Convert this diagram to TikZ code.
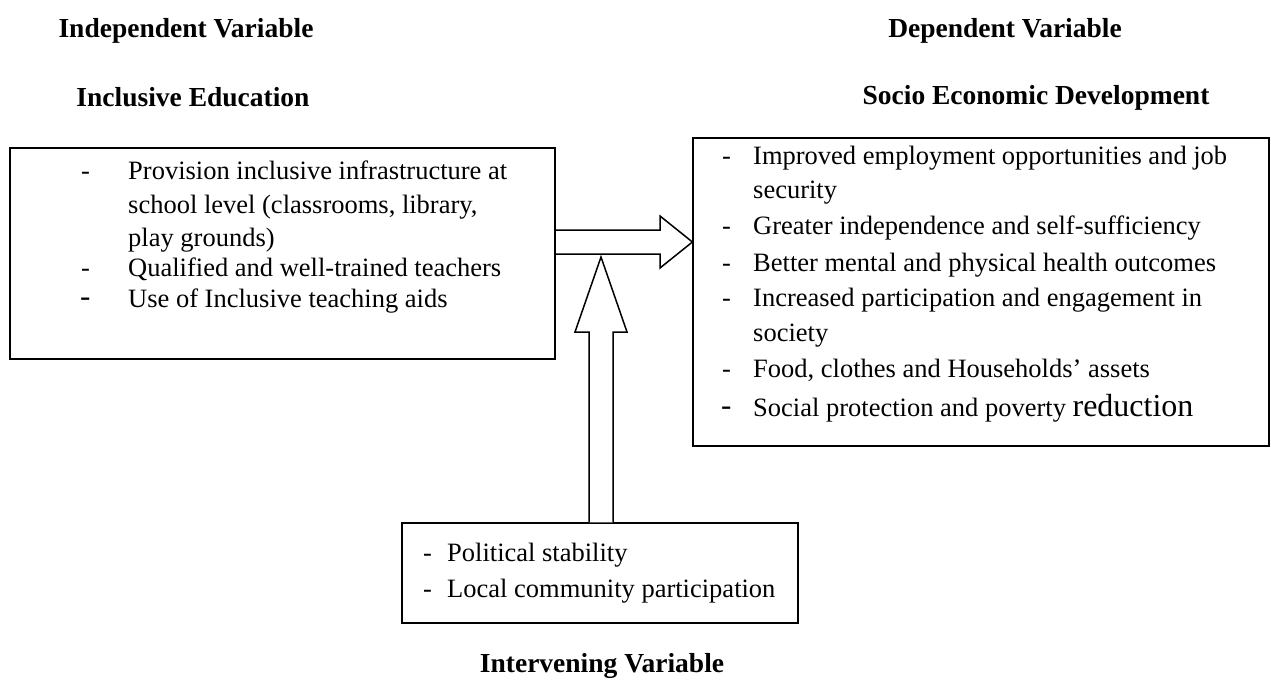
\documentclass[tikz,border=0pt]{standalone}
\usepackage{fontspec}
\setmainfont{Liberation Serif}
\begin{document}
\begin{tikzpicture}[x=1pt,y=-1pt,
  txt/.style={anchor=west,inner sep=0pt,font=\fontsize{26.5}{30}\selectfont,text height=0.7em,text depth=0.2em,yshift=-7pt},
  ttl/.style={inner sep=0pt,font=\fontsize{27.5}{30}\selectfont\bfseries},
  box/.style={draw,line width=1.2pt,inner sep=0pt},
  blk/.style={draw,line width=1.5pt,fill=white,line join=miter}]
\useasboundingbox (0,0) rectangle (1271,682);
% titles
\node[ttl] (t1) at (186,31) {Independent Variable};
\node[ttl] (t2) at (193,97) {Inclusive Education};
\node[ttl] (t3) at (1005,31) {Dependent Variable};
\node[ttl] (t4) at (1036,98) {Socio Economic Development};
\node[ttl] (t5) at (602,666) {Intervening Variable};
% boxes
\node[box,line width=2pt,minimum width=545pt,minimum height=211pt] (L) at (282.5,253.5) {};
\node[box,minimum width=576pt,minimum height=308pt] (R) at (981,292) {};
\node[box,minimum width=396pt,minimum height=100pt] (B) at (600,573) {};
% left box text
\node[txt] (ld1) at (81,170) {-};
\node[txt] (l1) at (128,170) {Provision inclusive infrastructure at};
\node[txt] (l2) at (128,204) {school level (classrooms, library,};
\node[txt] (l3) at (128,237) {play grounds)};
\node[txt] (ld2) at (81,267) {-};
\node[txt] (l4) at (128,267) {Qualified and well-trained teachers};
\node[txt,font=\fontsize{31}{32}\selectfont] (ld3) at (80,297) {-};
\node[txt] (l5) at (128,298) {Use of Inclusive teaching aids};
% right box text
\node[txt] (rd1) at (722,155) {-};
\node[txt] (r1) at (753,155) {Improved employment opportunities and job};
\node[txt] (r2) at (753,189) {security};
\node[txt] (rd3) at (722,225) {-};
\node[txt] (r3) at (753,225) {Greater independence and self-sufficiency};
\node[txt] (rd4) at (722,262) {-};
\node[txt] (r4) at (753,262) {Better mental and physical health outcomes};
\node[txt] (rd5) at (722,297) {-};
\node[txt] (r5) at (753,297) {Increased participation and engagement in};
\node[txt] (r6) at (753,332) {society};
\node[txt] (rd7) at (722,368) {-};
\node[txt] (r7) at (753,368) {Food, clothes and Households' assets};
\node[txt,font=\fontsize{31}{32}\selectfont] (rd8) at (721,406) {-};
\node[txt] (r8) at (753,407) {Social protection and poverty {\fontsize{32}{34}\selectfont reduction}};
% bottom box text
\node[txt] (bd1) at (423,552) {-};
\node[txt] (b1) at (447,552) {Political stability};
\node[txt] (bd2) at (423,588) {-};
\node[txt] (b2) at (447,588) {Local community participation};
% horizontal block arrow
\draw[blk] (L.east |- 0,230) -- (660,230) -- (660,216) -- (R.west |- 0,242) -- (660,268) -- (660,254) -- (L.east |- 0,254);
% vertical block arrow
\draw[blk] (589,0 |- B.north) -- (589,332) -- (575,332) -- (601,257) -- (627,332) -- (613,332) -- (613,0 |- B.north);
\end{tikzpicture}
\end{document}
